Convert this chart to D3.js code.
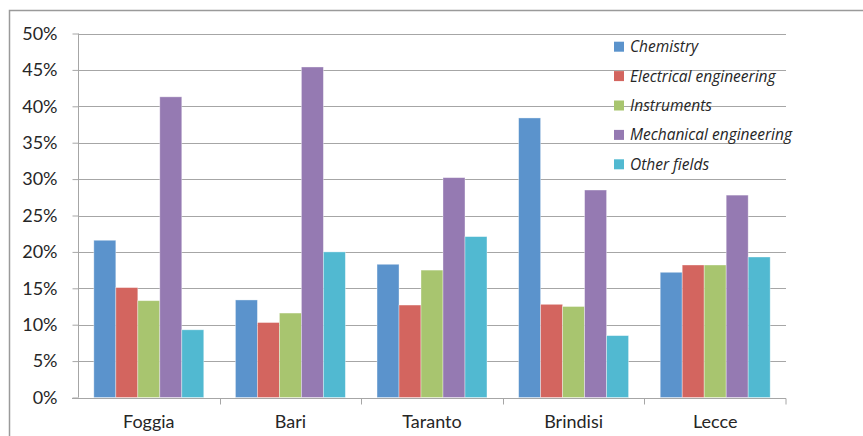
<!DOCTYPE html>
<html>
<head>
<meta charset="utf-8">
<script src="https://cdn.jsdelivr.net/npm/d3@7"></script>
<style>
  body { margin: 0; background: #fff; }
  text { font-family: Lato, "Open Sans", sans-serif; fill: #262626; }
</style>
</head>
<body>
<svg id="chart" width="863" height="436"></svg>
<script>
// regions and the share of patents per technology field
var regions = ['Foggia', 'Bari', 'Taranto', 'Brindisi', 'Lecce'];
var fields = ['Chemistry', 'Electrical engineering', 'Instruments', 'Mechanical engineering', 'Other fields'];
var chemistry  = [0.216, 0.134, 0.183, 0.384, 0.172];
var electrical = [0.151, 0.103, 0.127, 0.128, 0.182];
var instruments = [0.133, 0.116, 0.175, 0.125, 0.182];
var mechanical = [0.413, 0.454, 0.302, 0.285, 0.278];
var other      = [0.093, 0.200, 0.221, 0.085, 0.193];
var yTicks = [0, 0.05, 0.1, 0.15, 0.2, 0.25, 0.3, 0.35, 0.4, 0.45, 0.5];
var colors = ['#5b93cc', '#d3655f', '#a8c56f', '#957ab2', '#51b9d1'];

var series = [chemistry, electrical, instruments, mechanical, other];

var svg = d3.select('#chart');

var x0 = d3.scaleBand().domain(regions).range([78, 786]);
var x1 = d3.scaleBand().domain(fields).range([0, x0.bandwidth()]).paddingOuter(0.72);
var y = d3.scaleLinear().domain([0, 0.5]).range([397.5, 33.5]);

// outer frame (left and top only)
svg.append('path')
  .attr('d', 'M9.5,436V10.5H863')
  .attr('fill', 'none')
  .attr('stroke', '#9a9a9a')
  .attr('stroke-width', 1.5);

// grid
svg.append('g').selectAll('line')
  .data(yTicks.slice(1))
  .enter().append('line')
  .attr('x1', 78).attr('x2', 786)
  .attr('y1', function(d) { return Math.round(y(d)) + 0.5; })
  .attr('y2', function(d) { return Math.round(y(d)) + 0.5; })
  .attr('stroke', '#a6a6a6');

// bars
var groups = svg.append('g').selectAll('g')
  .data(regions)
  .enter().append('g')
  .attr('transform', function(d) { return 'translate(' + x0(d) + ',0)'; });

groups.selectAll('rect')
  .data(function(d, i) {
    return fields.map(function(f, j) { return { field: f, value: series[j][i], k: j }; });
  })
  .enter().append('rect')
  .attr('x', function(d) { return x1(d.field); })
  .attr('width', x1.bandwidth())
  .attr('y', function(d) { return y(d.value); })
  .attr('height', function(d) { return y(0) - y(d.value); })
  .attr('fill', function(d) { return colors[d.k]; })
  .attr('stroke', 'rgba(255,255,255,0.45)')
  .attr('stroke-width', 0.8);

// y axis
var yAxis = d3.axisLeft(y)
  .tickValues(yTicks)
  .tickFormat(d3.format('.0%'))
  .tickSize(6)
  .tickPadding(15);

var ga = svg.append('g')
  .attr('transform', 'translate(78.5,0)')
  .call(yAxis);
ga.select('.domain').attr('stroke', '#a6a6a6').attr('d', 'M0,' + y(0.5) + 'V' + y(0));
ga.selectAll('.tick line').attr('stroke', '#a6a6a6');
ga.selectAll('.tick text').attr('font-size', 18).attr('fill', '#262626')
  .style('font-family', 'Lato, sans-serif');

// x axis
var gx = svg.append('g')
  .attr('transform', 'translate(0,' + (Math.round(y(0)) + 0.5) + ')');
gx.append('line')
  .attr('x1', 72).attr('x2', 786)
  .attr('stroke', '#a6a6a6');
gx.selectAll('.sep')
  .data(regions.slice(1).concat(['end']))
  .enter().append('line')
  .attr('class', 'sep')
  .attr('x1', function(d) { return d === 'end' ? 786 : Math.round(x0(d)) + 0.5; })
  .attr('x2', function(d) { return d === 'end' ? 786 : Math.round(x0(d)) + 0.5; })
  .attr('y1', 0).attr('y2', 6)
  .attr('stroke', '#a6a6a6');
gx.selectAll('.lbl')
  .data(regions)
  .enter().append('text')
  .attr('class', 'lbl')
  .attr('x', function(d) { return x0(d) + x0.bandwidth() / 2; })
  .attr('y', 29.5)
  .attr('text-anchor', 'middle')
  .attr('font-size', 18)
  .text(function(d) { return d; });

// legend
var legend = svg.append('g').selectAll('g')
  .data(fields)
  .enter().append('g')
  .attr('transform', function(d, i) { return 'translate(614,' + (46.7 + i * 29.4) + ')'; });
legend.append('rect')
  .attr('x', 0).attr('y', -5)
  .attr('width', 10).attr('height', 10)
  .attr('fill', function(d, i) { return colors[i]; });
legend.append('text')
  .attr('x', 16).attr('dy', '0.35em')
  .attr('font-size', 15.5)
  .attr('font-style', 'italic')
  .style('font-family', '"Open Sans", sans-serif')
  .text(function(d) { return d; });
</script>
</body>
</html>
